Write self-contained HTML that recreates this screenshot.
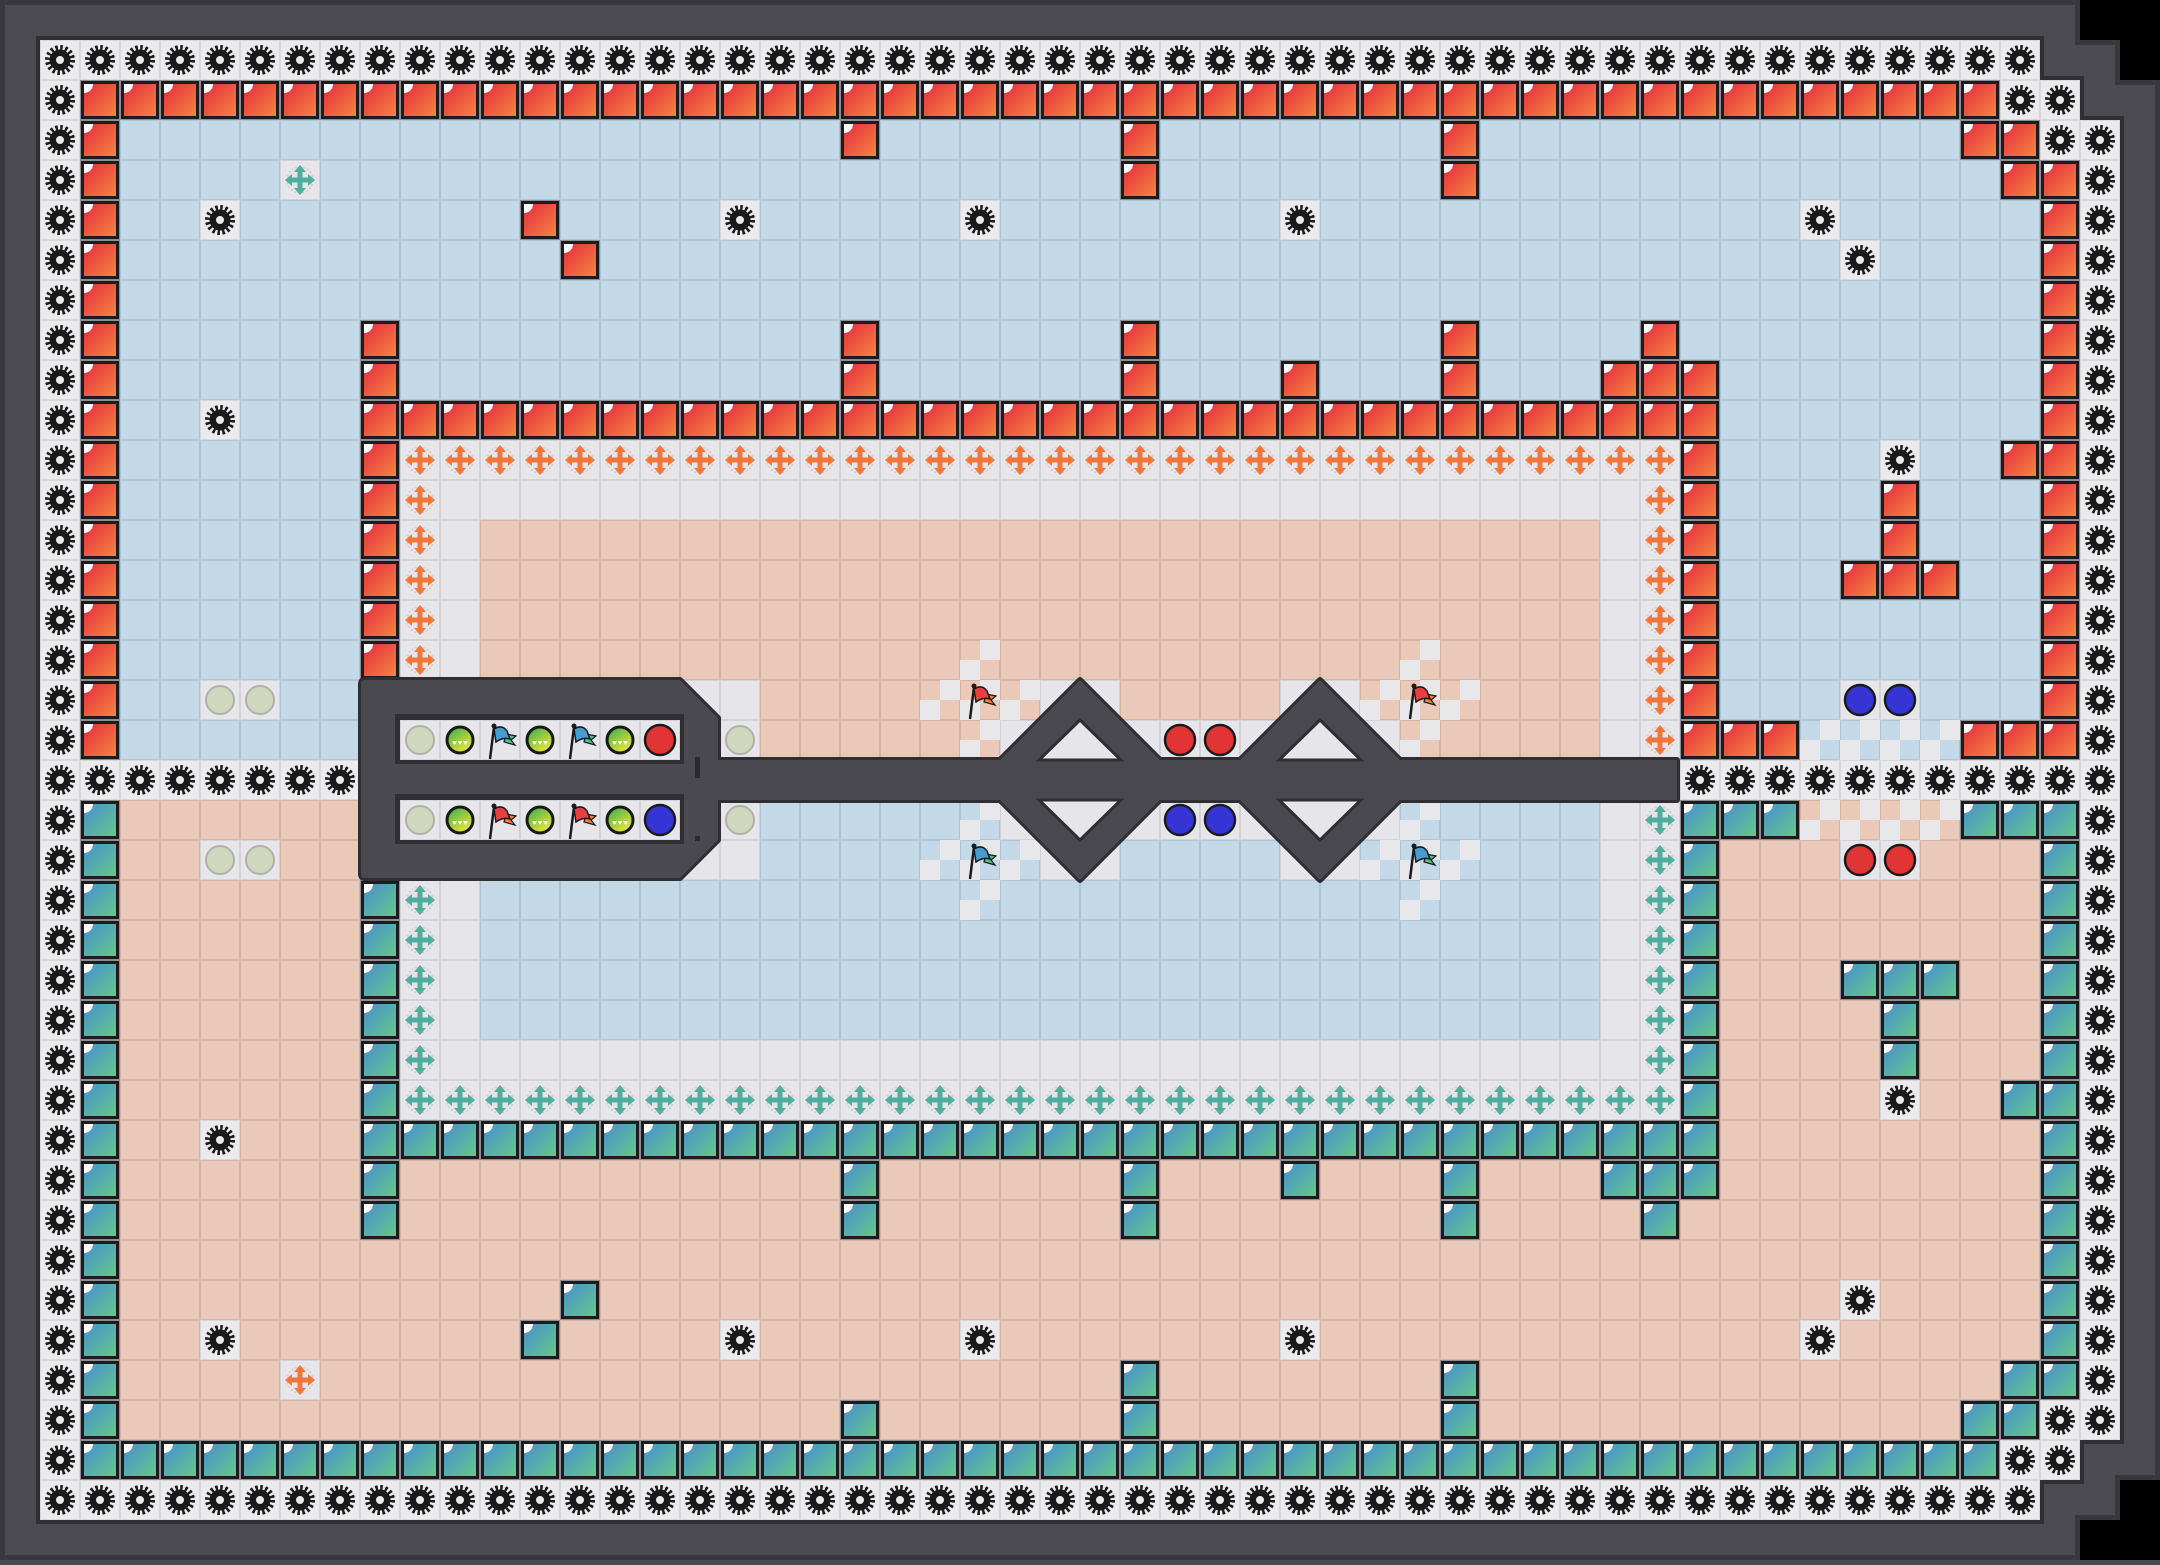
<!DOCTYPE html>
<html><head><meta charset="utf-8">
<style>html,body{margin:0;padding:0;background:#4b4a50;width:2160px;height:1560px;overflow:hidden}#m{position:absolute;left:0;top:0}</style>
</head><body><div id="m"></div>
<script>
const W=52,H=37;
const g=[];for(let r=0;r<H;r++){g.push(new Array(W).fill('b'));}
function set(r,cs,v){cs.forEach(c=>g[r][c]=v);}
function range(a,b){const o=[];for(let i=a;i<=b;i++)o.push(i);return o;}
for(let c=0;c<W;c++)g[0][c]=c<=49?'G':'.';
g[1][0]='G';set(1,range(1,48),'R');set(1,[49,50],'G');g[1][51]='.';
g[2][0]='G';set(2,[1,48,49],'R');set(2,[50,51],'G');
for(let r=3;r<=17;r++){g[r][0]='G';g[r][1]='R';g[r][50]='R';g[r][51]='G';}
set(2,[20,27,35],'R');
set(3,[27,35,49],'R');g[3][6]='t';
set(4,[4,17,23,31,44],'G');g[4][12]='R';
g[5][13]='R';g[5][45]='G';
set(7,[8,20,27,35,40],'R');
set(8,[8,20,27,31,35,39,40,41],'R');
g[9][4]='G';set(9,range(8,41),'R');
g[10][8]='R';set(10,range(9,40),'o');g[10][41]='R';g[10][46]='G';g[10][49]='R';
for(let r=11;r<=17;r++){g[r][8]='R';g[r][9]='o';g[r][40]='o';g[r][41]='R';g[r][10]='l';g[r][39]='l';}
set(11,range(10,39),'l');
for(let r=12;r<=17;r++)set(r,range(11,38),'s');
set(11,[46],'R');set(12,[46],'R');set(13,[45,46,47],'R');
set(16,[4,5,45,46],'l');
set(17,[41,42,43,48,49],'R');set(17,[44,45,46,47],'X');
[[15,23],[16,22],[16,23],[16,24],[17,23],[15,34],[16,33],[16,34],[16,35],[17,34]].forEach(([r,c])=>g[r][c]='Y');
set(16,[16,17,25,26,31,32],'l');
set(17,range(24,33),'l');g[17][17]='l';
for(let c=0;c<W;c++)g[18][c]='G';
const sw={R:'T',T:'R',b:'s',s:'b',o:'t',t:'o',X:'Y',Y:'X'};
for(let r=19;r<=36;r++)for(let c=0;c<W;c++){const v=g[36-r][c];g[r][c]=sw[v]||v;}

const C={b:['#c4d9e8','#afc4d4'],s:['#ebc9b9','#d9b4a3'],l:['#e6e6ea','#d3d3d7'],G:['#ebebee','#d8d8dc']};
function tile(x,y,f){return `<rect x="${x+0.5}" y="${y+0.5}" width="39" height="39" fill="${f[0]}" stroke="${f[1]}"/>`;}
function gear(x,y){const cx=x+20,cy=y+20;return `<circle cx="${cx}" cy="${cy}" r="10.5" fill="#1a1a1a"/><circle cx="${cx}" cy="${cy}" r="12.5" fill="none" stroke="#1a1a1a" stroke-width="5" stroke-dasharray="2.45 2.45"/><circle cx="${cx}" cy="${cy}" r="4" fill="#ebebee"/>`;}
function wall(x,y,t){return `<rect x="${x}" y="${y}" width="40" height="40" fill="#8e8e92"/><rect x="${x+1}" y="${y+1}" width="38" height="38" fill="#1c1c1e"/><rect x="${x+4}" y="${y+4}" width="32" height="32" fill="url(#${t})"/><path d="M${x+4} ${y+4}h9a9 9 0 0 1-9 9z" fill="#fff"/>`;}
function arrow(x,y,col){const cx=x+20,cy=y+20;return `<circle cx="${cx}" cy="${cy}" r="13" fill="none" stroke="#d6caca" stroke-width="1.5" stroke-dasharray="2 2"/><path d="M${cx} ${cy-9}V${cy+9}M${cx-9} ${cy}H${cx+9}" stroke="${col}" stroke-width="5"/><path d="M${cx} ${cy-15}l-6 7h12zM${cx} ${cy+15}l-6 -7h12zM${cx-15} ${cy}l7 -6v12zM${cx+15} ${cy}l-7 -6v12z" fill="${col}"/>`;}
function checker(x,y,f){return tile(x,y,f)+`<rect x="${x+20}" y="${y}" width="20" height="20" fill="#e8e8eb"/><rect x="${x}" y="${y+20}" width="20" height="20" fill="#e8e8eb"/>`;}
function circ(c,r,fill,stroke,sw2,rad){const cx=40+40*c+20,cy=40+40*r+20;return `<circle cx="${cx}" cy="${cy}" r="${rad||15}" fill="${fill}" stroke="${stroke}" stroke-width="${sw2}"/>`;}
function ball(c,r){const cx=40+40*c+20,cy=40+40*r+20;return `<circle cx="${cx}" cy="${cy}" r="13" fill="url(#gb)" stroke="#1a1a1a" stroke-width="3"/><path d="M${cx-8} ${cy+1}l2.5 4 2.5-4zM${cx-2.5} ${cy+1}l2.5 4 2.5-4zM${cx+3} ${cy+1}l2.5 4 2.5-4z" fill="#fff"/>`;}
function flag(c,r,main,tail){const x=40+40*c,y=40+40*r;return `<path d="M${x+26} ${y+14}L${x+36} ${y+16}L${x+31} ${y+20}L${x+35} ${y+25}L${x+24} ${y+22}Z" fill="${tail}" stroke="#1a1a1a" stroke-width="1.2"/><path d="M${x+14} ${y+9}Q${x+22} ${y+4} ${x+27} ${y+11}L${x+30} ${y+19}Q${x+23} ${y+17} ${x+16} ${y+22}Z" fill="${main}" stroke="#1a1a1a" stroke-width="1.5"/><line x1="${x+10}" y1="${y+39}" x2="${x+14}" y2="${y+7}" stroke="#1a1a1a" stroke-width="2.5"/><circle cx="${x+14}" cy="${y+6}" r="2.5" fill="#1a1a1a"/>`;}

let s=`<svg xmlns="http://www.w3.org/2000/svg" width="2160" height="1560" viewBox="0 0 2160 1560"><defs>
<linearGradient id="gr" x1="0" y1="0" x2="1" y2="1"><stop offset="0" stop-color="#e52b3f"/><stop offset="1" stop-color="#f6843f"/></linearGradient>
<linearGradient id="gt" x1="0" y1="0" x2="1" y2="1"><stop offset="0" stop-color="#4a8fd0"/><stop offset="1" stop-color="#62c888"/></linearGradient>
<linearGradient id="gb" x1="0" y1="0" x2="0.7" y2="1"><stop offset="0" stop-color="#2fae4a"/><stop offset="1" stop-color="#f2e43c"/></linearGradient>
</defs>`;
s+=`<polygon points="0,0 2080,0 2080,40 2120,40 2120,80 2160,80 2160,1480 2120,1480 2120,1520 2080,1520 2080,1560 0,1560" fill="#4b4a50" stroke="#38373c" stroke-width="10"/>`;
s+=`<polygon points="2080,0 2160,0 2160,80 2120,80 2120,40 2080,40" fill="#000"/><polygon points="2120,1480 2160,1480 2160,1560 2080,1560 2080,1520 2120,1520" fill="#000"/>`;
s+=`<polygon points="40,40 2040,40 2040,80 2080,80 2080,120 2120,120 2120,1440 2080,1440 2080,1480 2040,1480 2040,1520 40,1520" fill="#4b4a50" stroke="#2f2e33" stroke-width="8"/>`;
for(let r=0;r<H;r++)for(let c=0;c<W;c++){
 const v=g[r][c],x=40+40*c,y=40+40*r;
 if(v==='.')continue;
 if(v==='b'||v==='s'||v==='l')s+=tile(x,y,C[v]);
 else if(v==='G')s+=tile(x,y,C.G)+gear(x,y);
 else if(v==='R')s+=wall(x,y,'gr');
 else if(v==='T')s+=wall(x,y,'gt');
 else if(v==='o')s+=tile(x,y,C.l)+arrow(x,y,'#f3773a');
 else if(v==='t')s+=tile(x,y,C.l)+arrow(x,y,'#4fae9f');
 else if(v==='X')s+=checker(x,y,C.b);
 else if(v==='Y')s+=checker(x,y,C.s);
}
// dark structure
const panel=`M361,684Q361,680 365,680H680L718,718V760H1677V800H718V840L680,878H365Q361,878 361,874Z`;
let dia='';[1080,1320].forEach(cx=>{dia+=`M${cx},680L${cx+100},780L${cx},880L${cx-100},780Z`;});
s+=`<path d="${panel}${dia}" fill="#2f2e33" stroke="#2f2e33" stroke-width="6" stroke-linejoin="round"/>`;
s+=`<path d="${panel}${dia}" fill="#4a494f"/>`;
[1080,1320].forEach(cx=>{
 s+=`<polygon points="${cx},720 ${cx+41},760 ${cx-41},760" fill="#e6e6ea" stroke="#2f2e33" stroke-width="3"/>`;
 s+=`<polygon points="${cx-41},800 ${cx+41},800 ${cx},840" fill="#e6e6ea" stroke="#2f2e33" stroke-width="3"/>`;
});
// slots
[717,797].forEach(y=>{s+=`<rect x="395" y="${y-3}" width="289" height="50" fill="#2f2e33"/>`;});
for(let c=9;c<=15;c++){s+=tile(40+40*c,720,C.l)+tile(40+40*c,800,C.l);}
s+=`<rect x="695" y="757" width="5" height="21" fill="#2a292e"/><rect x="695" y="836" width="5" height="5" fill="#2a292e"/>`;
// overlays
const pale=(c,r)=>circ(c,r,'#cfd8bf','#aeb2a6',2,14);
[[4,16],[5,16],[4,20],[5,20],[17,17],[17,19],[9,17],[9,19]].forEach(([c,r])=>s+=pale(c,r));
[10,12,14].forEach(c=>{s+=ball(c,17)+ball(c,19);});
[11,13].forEach(c=>{s+=flag(c,17,'#4a9cd0','#4ac08a')+flag(c,19,'#e84040','#f08030');});
const red=(c,r)=>circ(c,r,'#e03434','#1a1a1a',2.5,15),blue=(c,r)=>circ(c,r,'#3535d6','#1a1a1a',2.5,15);
s+=red(15,17)+blue(15,19);
s+=red(28,17)+red(29,17)+blue(28,19)+blue(29,19)+blue(45,16)+blue(46,16)+red(45,20)+red(46,20);
s+=flag(23,16,'#e84040','#f08030')+flag(34,16,'#e84040','#f08030')+flag(23,20,'#4a9cd0','#4ac08a')+flag(34,20,'#4a9cd0','#4ac08a');
s+='</svg>';
document.getElementById('m').innerHTML=s;
</script>
</body></html>
